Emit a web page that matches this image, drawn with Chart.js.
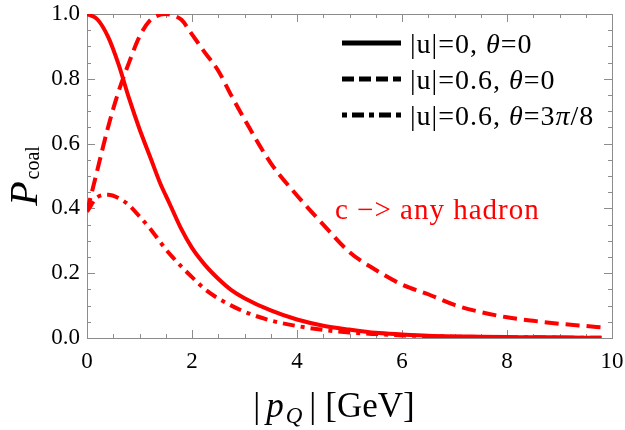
<!DOCTYPE html>
<html lang="en">
<head>
<meta charset="UTF-8">
<title>P_coal vs |p_Q|</title>
<script src="https://cdn.jsdelivr.net/npm/chart.js"></script>
<style>
  html, body { margin: 0; padding: 0; background: #fff; }
</style>
</head>
<body>
<canvas id="pcoal" width="625" height="430"></canvas>
<script>
// |p_Q| in GeV (shared x values for the three curves)
const pQ = [0, 0.2, 0.4, 0.6, 0.8, 1.0, 1.2, 1.4, 1.5, 1.6, 1.8, 2.0, 2.25, 2.5, 2.75, 3.0,
            3.5, 4.0, 4.5, 5.0, 5.5, 6.0, 6.5, 7.0, 7.5, 8.0, 8.5, 9.0, 9.5, 9.8];

// P_coal for |u|=0, theta=0 (solid)
const pSolid = [1.0, 0.983, 0.93, 0.845, 0.74, 0.645, 0.56, 0.475, 0.44, 0.405, 0.335, 0.278, 0.225, 0.183, 0.148, 0.123,
                0.085, 0.057, 0.038, 0.026, 0.016, 0.011, 0.007, 0.005, 0.004, 0.003, 0.002, 0.002, 0.001, 0.001];
// |u|=0.6, theta=0 (dashed)
const pDashed = [0.39, 0.52, 0.65, 0.76, 0.85, 0.93, 0.98, 0.998, 1.0, 0.997, 0.982, 0.937, 0.88, 0.825, 0.748, 0.675,
                 0.54, 0.44, 0.35, 0.265, 0.21, 0.165, 0.135, 0.102, 0.08, 0.064, 0.053, 0.044, 0.037, 0.033];
// |u|=0.6, theta=3pi/8 (dot-dashed)
const pDashDot = [0.39, 0.435, 0.442, 0.432, 0.41, 0.375, 0.338, 0.295, 0.274, 0.255, 0.22, 0.188, 0.15, 0.122, 0.1, 0.081,
                  0.054, 0.037, 0.025, 0.017, 0.012, 0.008, 0.006, 0.004, 0.003, 0.002, 0.002, 0.001, 0.001, 0.001];

const xTickLabels = ['0', '2', '4', '6', '8', '10'];
const yTickLabels = ['0.0', '0.2', '0.4', '0.6', '0.8', '1.0'];

// legend entries: pieces of [text, italic]
const legendLabels = [
  [['|u|=0, ', false], ['θ', true], ['=0', false]],
  [['|u|=0.6, ', false], ['θ', true], ['=0', false]],
  [['|u|=0.6, ', false], ['θ', true], ['=3', false], ['π', true], ['/8', false]]
];
const legendDash = [[], [12, 5], [5, 5, 12, 5]];
const noteText = 'c −> any hadron';

const SERIF = '"Liberation Serif", "DejaVu Serif", serif';
const RED = '#ff0000';

function pts(ys) { return pQ.map((x, i) => ({ x: x, y: ys[i] })); }

function runWidth(ctx, runs, size) {
  let w = 0;
  runs.forEach(r => {
    ctx.font = (r.italic ? 'italic ' : '') + (r.size || size) + 'px ' + SERIF;
    w += ctx.measureText(r.text).width + (r.gap || 0);
  });
  return w;
}
function drawRuns(ctx, runs, x, y, size) {
  runs.forEach(r => {
    ctx.font = (r.italic ? 'italic ' : '') + (r.size || size) + 'px ' + SERIF;
    ctx.fillText(r.text, x, y + (r.dy || 0));
    x += ctx.measureText(r.text).width + (r.gap || 0);
  });
}

const framePlugin = {
  id: 'frame',
  beforeDatasetsDraw(chart) {
    const { ctx, chartArea: a, scales } = chart;
    const xs = scales.x, ys = scales.y;
    ctx.save();
    ctx.strokeStyle = '#8c8c8c';
    ctx.lineWidth = 1;
    ctx.strokeRect(a.left + 0.5, a.top + 0.5, a.right - a.left, a.bottom - a.top);
    ctx.beginPath();
    for (let i = 0; i <= 20; i++) {
      const v = i * 0.5;
      const px = Math.round(xs.getPixelForValue(v)) + 0.5;
      const len = (i % 4 === 0) ? 8 : 4;
      ctx.moveTo(px, a.bottom); ctx.lineTo(px, a.bottom - len);
      ctx.moveTo(px, a.top); ctx.lineTo(px, a.top + len);
    }
    for (let i = 0; i <= 20; i++) {
      const v = i * 0.05;
      const py = Math.round(ys.getPixelForValue(v)) + 0.5;
      const len = (i % 4 === 0) ? 8 : 4;
      ctx.moveTo(a.left, py); ctx.lineTo(a.left + len, py);
      ctx.moveTo(a.right, py); ctx.lineTo(a.right - len, py);
    }
    ctx.stroke();
    ctx.restore();
  },
  afterDraw(chart) {
    const { ctx } = chart;
    ctx.save();
    ctx.fillStyle = '#000';
    ctx.textBaseline = 'alphabetic';

    // x axis title |p_Q| [GeV]
    const xt = [
      { text: '|', gap: 6 }, { text: 'p', italic: true, gap: 2 },
      { text: 'Q', italic: true, size: 23, dy: 6, gap: 7 }, { text: '|', gap: 9 }, { text: '[GeV]' }
    ];
    const wx = runWidth(ctx, xt, 35);
    drawRuns(ctx, xt, 334 - wx / 2, 417, 35);

    // y axis title P_coal
    ctx.save();
    ctx.translate(37, 176);
    ctx.rotate(-Math.PI / 2);
    const yt = [{ text: 'P', italic: true, gap: 2 }, { text: 'coal', size: 20, dy: 2 }];
    const wy = runWidth(ctx, yt, 40);
    drawRuns(ctx, yt, -wy / 2, 0, 40);
    ctx.restore();

    // legend
    ctx.letterSpacing = '1px';
    legendLabels.forEach((parts, i) => {
      const ly = 43 + i * 36;
      ctx.save();
      ctx.strokeStyle = '#000';
      ctx.lineWidth = 5;
      ctx.setLineDash(legendDash[i]);
      ctx.beginPath();
      ctx.moveTo(342, ly); ctx.lineTo(401, ly);
      ctx.stroke();
      ctx.restore();
      drawRuns(ctx, parts.map(p => ({ text: p[0], italic: p[1] })), 410, ly + 10, 28);
    });

    // annotation
    ctx.fillStyle = RED;
    ctx.font = '29px ' + SERIF;
    ctx.fillText(noteText, 335, 219);
    ctx.restore();
  }
};

new Chart(document.getElementById('pcoal'), {
  type: 'line',
  data: {
    datasets: [
      { label: '|u|=0, θ=0', data: pts(pSolid), borderDash: [] },
      { label: '|u|=0.6, θ=0', data: pts(pDashed), borderDash: [14, 7] },
      { label: '|u|=0.6, θ=3π/8', data: pts(pDashDot), borderDash: [12, 6, 4, 6] }
    ].map(d => Object.assign(d, {
      borderColor: RED, borderWidth: 4, pointRadius: 0, fill: false,
      cubicInterpolationMode: 'monotone', borderCapStyle: 'butt'
    }))
  },
  options: {
    responsive: false,
    animation: false,
    layout: { padding: { top: 14, right: 13, left: 0, bottom: 0 } },
    plugins: { legend: { display: false }, tooltip: { enabled: false } },
    scales: {
      x: {
        type: 'linear', min: 0, max: 10,
        grid: { display: false, drawTicks: false }, border: { display: false },
        afterFit: s => { s.height = 92; s.paddingLeft = 0; s.paddingRight = 0; },
        ticks: {
          stepSize: 2, padding: 10, color: '#000', maxRotation: 0,
          font: { family: SERIF, size: 23 },
          callback: v => xTickLabels[v / 2]
        }
      },
      y: {
        min: 0, max: 1,
        grid: { display: false, drawTicks: false }, border: { display: false },
        afterFit: s => { s.width = 87; s.paddingTop = 0; s.paddingBottom = 0; },
        ticks: {
          stepSize: 0.2, padding: 7, color: '#000',
          font: { family: SERIF, size: 23 },
          callback: v => yTickLabels[Math.round(v * 5)]
        }
      }
    }
  },
  plugins: [framePlugin]
});
</script>
</body>
</html>
